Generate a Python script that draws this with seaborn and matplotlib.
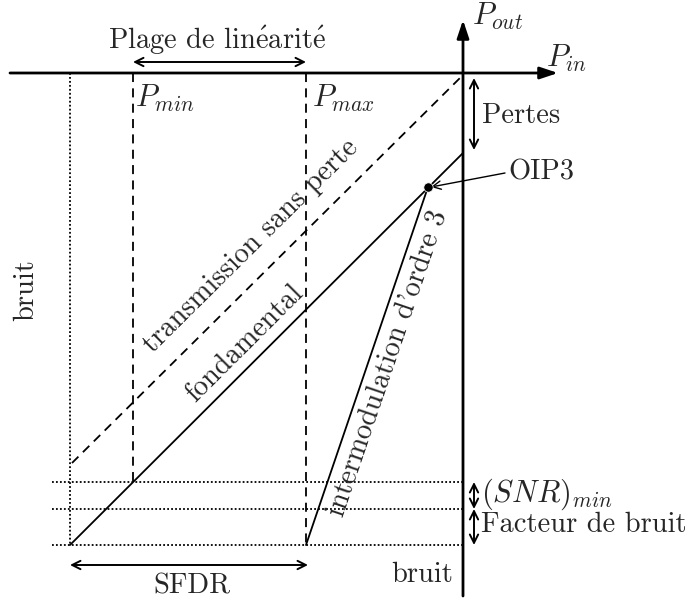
import numpy as np
import pandas as pd
import matplotlib
matplotlib.use("Agg")
import matplotlib.pyplot as plt
import seaborn as sns

# ---- diagram data (pixel-like coordinates, y downward) ----
W, H = 689, 599
axis_origin = (463, 73)
h_axis_x = [10, 558]
v_axis_y = [596, 20]
noise_x = 70
pmin_x, pmax_x = 133, 306
fund_x = [70, 463]
fund_y = [545, 153]
lossless_x = [72, 463]
lossless_y = [463, 75]
im3_x = [306, 428]
im3_y = [545, 187]
oip3_point = [428, 187]
levels_y = [482, 509, 545]
levels_x = [52, 463]
pertes_y = [78, 150]
side_arrow_x = 474

sns.set_theme(style="white")
plt.rcParams['font.family'] = ['cmr10', 'DejaVu Serif']
plt.rcParams['mathtext.fontset'] = 'cm'
plt.rcParams['axes.unicode_minus'] = False

fig = plt.figure(figsize=(W / 100, H / 100), dpi=100)
ax = fig.add_axes([0, 0, 1, 1])
ax.set_xlim(0, W)
ax.set_ylim(H, 0)
ax.axis('off')

FS = 20.5
FSM = 22
lw_main = 1.3
k = dict(color='black', ax=ax, sort=False, estimator=None, legend=False)

# axes arrows
ax.annotate('', xy=(h_axis_x[1], axis_origin[1]), xytext=(h_axis_x[0], axis_origin[1]),
            arrowprops=dict(arrowstyle='-|>,head_length=0.9,head_width=0.3', lw=2.0, color='black',
                            shrinkA=0, shrinkB=0))
ax.annotate('', xy=(axis_origin[0], v_axis_y[1]), xytext=(axis_origin[0], v_axis_y[0]),
            arrowprops=dict(arrowstyle='-|>,head_length=0.9,head_width=0.3', lw=2.0, color='black',
                            shrinkA=0, shrinkB=0))
ax.text(472, 16, r'$P_{out}$', fontsize=FSM, va='center', ha='left')
ax.text(546, 58, r'$P_{in}$', fontsize=FSM, va='center', ha='left')

# vertical reference lines
sns.lineplot(x=[noise_x, noise_x], y=[axis_origin[1], levels_y[2]], lw=1.3, linestyle=(0, (1, 1.2)), **k)
sns.lineplot(x=[pmin_x, pmin_x], y=[axis_origin[1], levels_y[0]], lw=lw_main, linestyle=(0, (5, 3.5)), **k)
sns.lineplot(x=[pmax_x, pmax_x], y=[axis_origin[1], levels_y[2]], lw=lw_main, linestyle=(0, (5, 3.5)), **k)
ax.text(pmin_x + 2, 98, r'$P_{min}$', fontsize=FSM, va='center', ha='left')
ax.text(pmax_x + 6, 98, r'$P_{max}$', fontsize=FSM, va='center', ha='left')

# horizontal noise levels
for yl in levels_y:
    sns.lineplot(x=levels_x, y=[yl, yl], lw=1.3, linestyle=(0, (1, 1.2)), **k)

# characteristic lines
sns.lineplot(x=lossless_x, y=lossless_y, lw=lw_main, linestyle=(0, (5, 3.5)), **k)
sns.lineplot(x=fund_x, y=fund_y, lw=lw_main, **k)
sns.lineplot(x=im3_x, y=im3_y, lw=lw_main, **k)
sns.scatterplot(x=[oip3_point[0]], y=[oip3_point[1]], s=45, color='black', ax=ax, legend=False, zorder=5)

def ang(xs, ys):
    return np.degrees(np.arctan2(ys[0] - ys[1], xs[1] - xs[0]))

ax.text(251, 246, 'transmission sans perte', fontsize=FS, rotation=ang(lossless_x, lossless_y),
        rotation_mode='anchor', ha='center', va='center')
ax.text(245, 343, 'fondamental', fontsize=FS, rotation=ang(fund_x, fund_y),
        rotation_mode='anchor', ha='center', va='center')
ax.text(388, 363, "intermodulation d'ordre 3", fontsize=FS, rotation=ang(im3_x, im3_y),
        rotation_mode='anchor', ha='center', va='center')

# double arrows
def darrow(p0, p1):
    ax.annotate('', xy=p1, xytext=p0,
                arrowprops=dict(arrowstyle='<->,head_length=0.5,head_width=0.25', lw=1.4,
                                color='black', shrinkA=0, shrinkB=0))

darrow((pmin_x, 62), (pmax_x, 62))
ax.text((pmin_x + pmax_x) / 2 - 2, 40, r'Plage de lin$\mathrm{\acute{e}}$arit$\mathrm{\acute{e}}$',
        fontsize=FS, ha='center', va='center')
darrow((side_arrow_x, pertes_y[0]), (side_arrow_x, pertes_y[1]))
ax.text(482, 116, 'Pertes', fontsize=FS, ha='left', va='center')
darrow((side_arrow_x, levels_y[0]), (side_arrow_x, levels_y[1]))
ax.text(481, 494, r'$(SNR)_{min}$', fontsize=FSM, ha='left', va='center')
darrow((side_arrow_x, levels_y[1]), (side_arrow_x, levels_y[2]))
ax.text(481, 525, 'Facteur de bruit', fontsize=FS, ha='left', va='center')
darrow((noise_x, 565), (308, 565))
ax.text(192, 586, 'SFDR', fontsize=FS, ha='center', va='center')
ax.text(453, 575, 'bruit', fontsize=FS, ha='right', va='center')
ax.text(26, 290, 'bruit', fontsize=FS, ha='center', va='center', rotation=90)

# OIP3 label
ax.annotate('', xy=(oip3_point[0] + 3, oip3_point[1]), xytext=(505, 173),
            arrowprops=dict(arrowstyle='->,head_length=0.5,head_width=0.25', lw=1.0, color='black',
                            shrinkA=0, shrinkB=0))
ax.text(508, 172, 'OIP3', fontsize=FS, ha='left', va='center')

fig.savefig('out.png', dpi=100)
